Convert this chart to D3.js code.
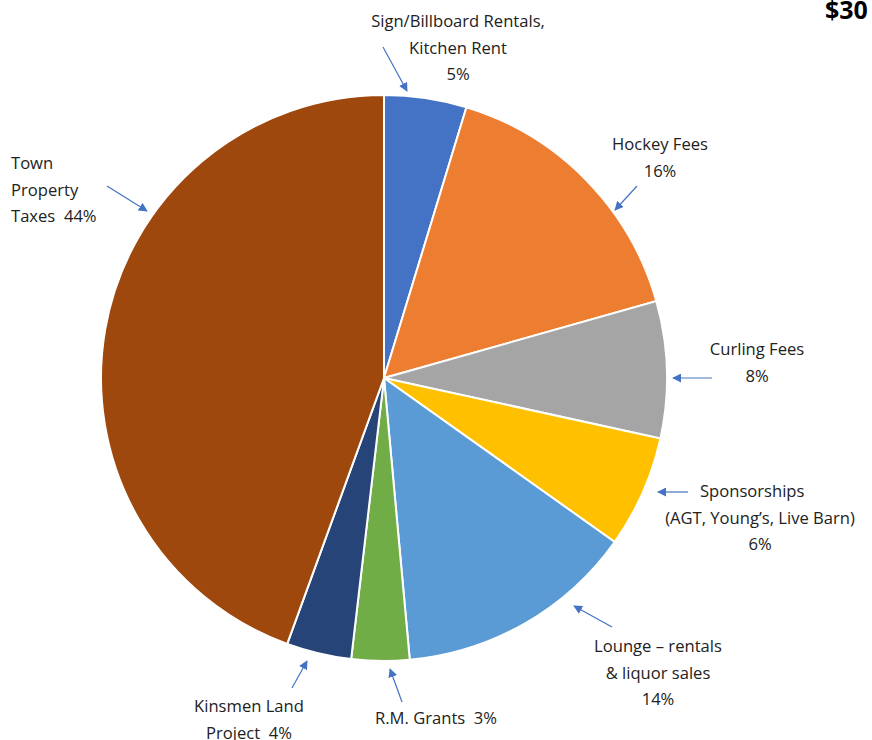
<!DOCTYPE html>
<html>
<head>
<meta charset="utf-8">
<script src="https://cdn.jsdelivr.net/npm/d3@7"></script>
<style>
  body { margin: 0; background: #fff; }
  svg { display: block; }
  text { font-family: "Open Sans", sans-serif; font-size: 16.6px; fill: #222; white-space: pre; }
</style>
</head>
<body>
<svg width="872" height="740"></svg>
<script>
// Revenue sources, clockwise from 12 o'clock (share of total, %)
var categories = ["Sign/Billboard Rentals, Kitchen Rent", "Hockey Fees", "Curling Fees",
    "Sponsorships (AGT, Young's, Live Barn)", "Lounge – rentals & liquor sales",
    "R.M. Grants", "Kinsmen Land Project", "Town Property Taxes"];
var shares = [4.7, 15.9, 7.8, 6.4, 13.7, 3.3, 3.7, 44.4];
var colors = ["#4472C4", "#ED7D31", "#A5A5A5", "#FFC000", "#5B9BD5", "#70AD47", "#264478", "#9E480E"];

// label lines, "{p}" gets the rounded percentage
var labelLines = [
    ["Sign/Billboard Rentals,", "Kitchen Rent", "{p}%"],
    ["Hockey Fees", "{p}%"],
    ["Curling Fees", "{p}%"],
    ["Sponsorships", "(AGT, Young\u2019s, Live Barn)", "{p}%"],
    ["Lounge \u2013 rentals", "& liquor sales", "{p}%"],
    ["R.M. Grants  {p}%"],
    ["Kinsmen Land", "Project  {p}%"],
    ["Town", "Property", "Taxes  {p}%"]
];

var svg = d3.select("svg");
var cx = 384, cy = 378, radius = 283;

var pie = d3.pie().sort(null).value(function (d) { return d; });
var arc = d3.arc().innerRadius(0).outerRadius(radius);

var g = svg.append("g").attr("transform", "translate(" + cx + "," + cy + ")");
g.selectAll("path")
    .data(pie(shares))
    .enter().append("path")
    .attr("d", arc)
    .attr("fill", function (d, i) { return colors[i]; })
    .attr("stroke", "#fff")
    .attr("stroke-width", 2);

// label placement: x, first baseline, anchor, arrow [x1,y1,x2,y2]
var layout = [
    { x: 458, y: 27, anchor: "middle", arrow: [383, 47, 407, 91] },
    { x: 660, y: 150, anchor: "middle", arrow: [637, 186, 615, 210] },
    { x: 757, y: 355, anchor: "middle", arrow: [712, 378, 673, 378] },
    { x: 760, y: 497, anchor: "middle", arrow: [688, 492, 658, 492], firstX: 700, firstAnchor: "start" },
    { x: 658, y: 652, anchor: "middle", arrow: [612, 627, 574, 606] },
    { x: 436, y: 724, anchor: "middle", arrow: [402, 702, 390, 669] },
    { x: 249, y: 712, anchor: "middle", arrow: [292, 688, 307, 661] },
    { x: 11, y: 169, anchor: "start", arrow: [107, 186, 147, 211] }
];
var lineH = 26.5;

svg.append("defs").append("marker")
    .attr("id", "arrowhead")
    .attr("viewBox", "0 0 10 10")
    .attr("refX", 9).attr("refY", 5)
    .attr("markerWidth", 9).attr("markerHeight", 9)
    .attr("markerUnits", "userSpaceOnUse")
    .attr("orient", "auto")
    .append("path")
    .attr("d", "M0,0L10,5L0,10z")
    .attr("fill", "#4472C4");

var labels = svg.append("g");
labelLines.forEach(function (lines, i) {
    var L = layout[i];
    var pct = Math.round(shares[i]);
    var t = labels.append("text").attr("text-anchor", L.anchor);
    lines.forEach(function (s, j) {
        var ts = t.append("tspan")
            .attr("x", (j === 0 && L.firstX) ? L.firstX : L.x)
            .attr("y", L.y + j * lineH)
            .text(s.replace("{p}", pct));
        if (j === 0 && L.firstAnchor) ts.attr("text-anchor", L.firstAnchor);
    });
    labels.append("line")
        .attr("x1", L.arrow[0]).attr("y1", L.arrow[1])
        .attr("x2", L.arrow[2]).attr("y2", L.arrow[3])
        .attr("stroke", "#4472C4")
        .attr("stroke-width", 1.2)
        .attr("marker-end", "url(#arrowhead)");
});

// title, cut off at the right edge in the original
svg.append("text")
    .attr("x", 825).attr("y", 19)
    .style("font-size", "25px")
    .style("font-weight", "bold")
    .style("fill", "#000")
    .text("$30");
</script>
</body>
</html>
